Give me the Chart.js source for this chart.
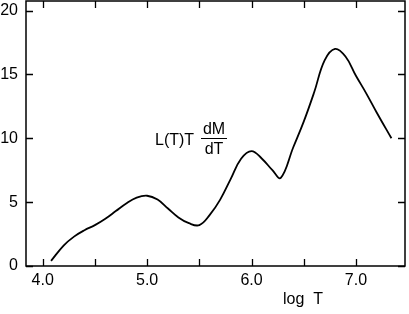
<!DOCTYPE html>
<html><head><meta charset="utf-8">
<script src="https://cdn.jsdelivr.net/npm/chart.js@4"></script>
<style>html,body{margin:0;padding:0;background:#fff}canvas{display:block}</style>
</head><body>
<canvas id="c" width="409" height="314"></canvas>
<script>
const logT = [4.08,4.2,4.3,4.4,4.5,4.6,4.7,4.8,4.9,5.0,5.1,5.2,5.3,5.4,5.5,5.6,5.7,5.8,5.9,6.0,6.1,6.2,6.28,6.4,6.5,6.6,6.7,6.8,6.9,7.0,7.1,7.2,7.34];
const values = [0.4,1.6,2.3,2.8,3.2,3.7,4.3,4.9,5.35,5.5,5.2,4.5,3.8,3.35,3.2,4.0,5.2,6.8,8.4,9.0,8.4,7.5,6.9,9.3,11.3,13.6,16.1,17.0,16.4,14.9,13.5,12.0,10.0];
const xTicks = [4.0,4.5,5.0,5.5,6.0,6.5,7.0];
const xLabels = ["4.0","5.0","6.0","7.0"];
const yTicks = [0,5,10,15,20];
const FONT = '"Liberation Sans", Arial, Helvetica, sans-serif';

const frame = {
  id:'frame',
  afterDraw(chart){
    const {ctx, chartArea:a, scales:{x,y}} = chart;
    ctx.save();
    ctx.strokeStyle='#000'; ctx.lineWidth=1.5;
    ctx.strokeRect(a.left, a.top, a.right-a.left, a.bottom-a.top);
    ctx.lineWidth=1.3;
    const L=7;
    ctx.beginPath();
    xTicks.forEach(v=>{const px=Math.round(x.getPixelForValue(v))+0.5;
      ctx.moveTo(px,a.bottom);ctx.lineTo(px,a.bottom-L);
      ctx.moveTo(px,a.top);ctx.lineTo(px,a.top+L);});
    yTicks.forEach(v=>{const py=Math.round(y.getPixelForValue(v))+0.5;
      ctx.moveTo(a.left,py);ctx.lineTo(a.left+L,py);
      ctx.moveTo(a.right,py);ctx.lineTo(a.right-L,py);});
    ctx.stroke();
    ctx.fillStyle='#000';
    ctx.font='16px '+FONT;
    ctx.textBaseline='alphabetic';
    ctx.textAlign='left';
    ctx.fillText('log  T', 283, 304);
    ctx.fillText('L(T)T', 155, 145);
    ctx.textAlign='center';
    ctx.fillText('dM', 214, 134);
    ctx.fillText('dT', 214, 154);
    ctx.lineWidth=1;
    ctx.beginPath();ctx.moveTo(201,138.5);ctx.lineTo(227,138.5);ctx.stroke();
    ctx.restore();
  }
};

new Chart(document.getElementById('c'), {
  type:'line',
  data:{datasets:[{data:logT.map((v,i)=>({x:v,y:values[i]})),borderColor:'#000',borderWidth:1.8,pointRadius:0,tension:0.4,fill:false}]},
  options:{
    responsive:false, animation:false,
    layout:{padding:{top:1,right:4,left:0,bottom:0}},
    plugins:{legend:{display:false},tooltip:{enabled:false}},
    scales:{
      x:{type:'linear',min:3.84,max:7.47,
        afterBuildTicks(s){s.ticks=xTicks.map(v=>({value:v}));},
        afterFit(s){s.height=48;s.paddingLeft=0;s.paddingRight=0;},
        grid:{display:false,drawTicks:false,tickLength:0},border:{display:false},
        ticks:{autoSkip:false,maxRotation:0,padding:5,color:'#000',font:{family:FONT,size:16},
          callback(v){const t=Number(v).toFixed(1);return xLabels.includes(t)?t:'';}}},
      y:{type:'linear',min:0,max:20.75,
        afterBuildTicks(s){s.ticks=yTicks.map(v=>({value:v}));},
        afterFit(s){s.width=26;s.paddingTop=0;s.paddingBottom=0;},
        grid:{display:false,drawTicks:false,tickLength:0},border:{display:false},
        ticks:{padding:8,color:'#000',font:{family:FONT,size:16}}}
    }
  },
  plugins:[frame]
});
</script>
</body></html>
